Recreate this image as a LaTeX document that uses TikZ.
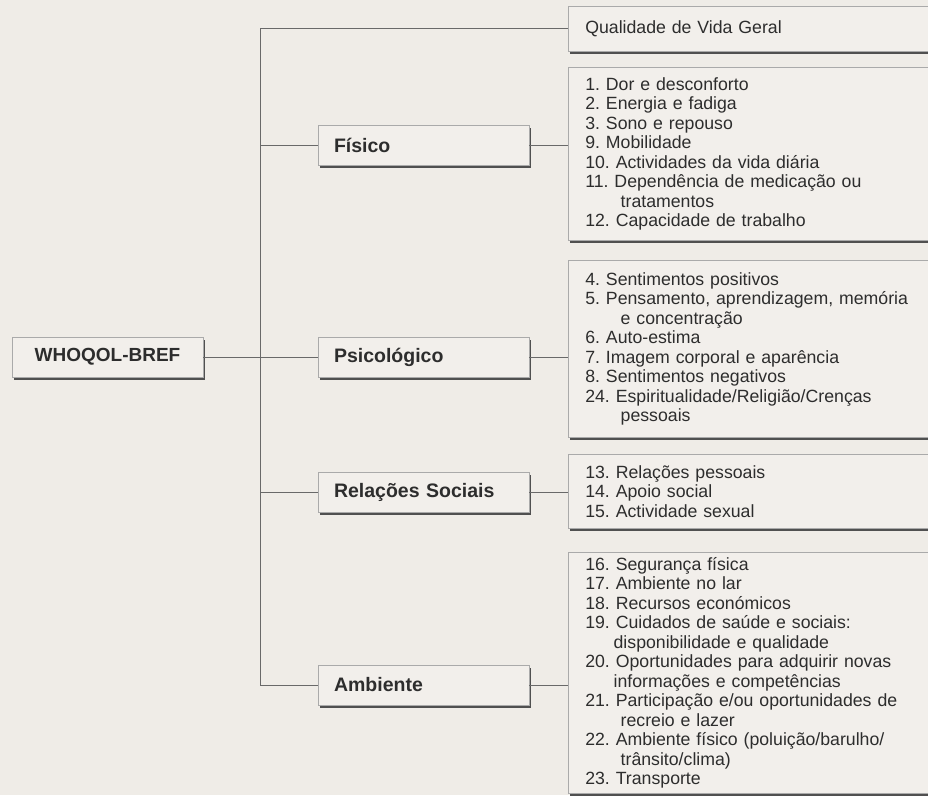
\documentclass[tikz,border=0pt]{standalone}
\usepackage{fontspec}
\setmainfont{Liberation Sans}
\usetikzlibrary{positioning, shadows}
\frenchspacing

\definecolor{paper}{RGB}{239,236,231}
\definecolor{boxfill}{RGB}{242,239,235}
\definecolor{ink}{RGB}{45,45,45}
\definecolor{wire}{RGB}{105,105,105}
\definecolor{rim}{RGB}{170,170,170}
\definecolor{shade}{RGB}{80,80,80}

\begin{document}
\begin{tikzpicture}[
  x=1pt, y=-1pt,
  boxbase/.style={rectangle, draw=rim, line width=0.6pt, fill=boxfill, text=ink,
    drop shadow={shadow xshift=2pt, shadow yshift=-2.5pt, fill=shade, opacity=1}},
  rootbox/.style={boxbase, minimum width=191pt, minimum height=40pt,
    font=\fontsize{19}{22}\selectfont\bfseries},
  domainbox/.style={boxbase, text width=179pt, inner xsep=16pt, minimum height=40pt,
    align=left, font=\fontsize{19.5}{22}\selectfont\bfseries},
  itembox/.style={boxbase, anchor=north west, text width=346pt, inner xsep=17pt,
    align=left, font=\fontsize{17.7}{19.5}\selectfont},
  conn/.style={draw=wire, line width=1pt},
]
\useasboundingbox (0,0) rectangle (928,795);
\clip (0,0) rectangle (928,795);
\fill[paper] (0,0) rectangle (928,795);

% root
\node[rootbox] (whoqol) at (107.5,357) {WHOQOL-BREF};

% domains
\node[domainbox] (fisico) at (423.5,145) {Físico};
\node[domainbox] (psico) at (423.5,357) {Psicológico};
\node[domainbox] (social) at (423.5,492) {Relações Sociais};
\node[domainbox] (ambiente) at (423.5,685) {Ambiente};

% facet lists
\node[itembox, minimum height=45pt] (geral) at (568,6) {Qualidade de Vida Geral};
\node[itembox, minimum height=173pt] (fisitems) at (568,67) {1. Dor e desconforto\\
  2. Energia e fadiga\\
  3. Sono e repouso\\
  9. Mobilidade\\
  10. Actividades da vida diária\\
  11. Dependência de medicação ou\\
  \hspace*{2em}tratamentos\\
  12. Capacidade de trabalho};
\node[itembox, minimum height=177pt] (psiitems) at (568,260) {4. Sentimentos positivos\\
  5. Pensamento, aprendizagem, memória\\
  \hspace*{2em}e concentração\\
  6. Auto-estima\\
  7. Imagem corporal e aparência\\
  8. Sentimentos negativos\\
  24. Espiritualidade/Religião/Crenças\\
  \hspace*{2em}pessoais};
\node[itembox, minimum height=74pt] (socitems) at (568,454) {13. Relações pessoais\\
  14. Apoio social\\
  15. Actividade sexual};
\node[itembox, minimum height=241pt] (ambitems) at (568,552) {16. Segurança física\\
  17. Ambiente no lar\\
  18. Recursos económicos\\
  19. Cuidados de saúde e sociais:\\
  \hspace*{1.6em}disponibilidade e qualidade\\
  20. Oportunidades para adquirir novas\\
  \hspace*{1.6em}informações e competências\\
  21. Participação e/ou oportunidades de\\
  \hspace*{2em}recreio e lazer\\
  22. Ambiente físico (poluição/barulho/\\
  \hspace*{2em}trânsito/clima)\\
  23. Transporte};

% trunk
\coordinate (trunkbot) at (260,685);
\draw[conn] (geral.west) -| (trunkbot) -- (ambiente.west);
\draw[conn] (whoqol.east) -- (psico.west);
\draw[conn] (fisico.west) -- (fisico.west -| trunkbot);
\draw[conn] (social.west) -- (social.west -| trunkbot);

% domain to facets
\draw[conn] (fisico.east) -- (fisico.east -| fisitems.west);
\draw[conn] (psico.east) -- (psico.east -| psiitems.west);
\draw[conn] (social.east) -- (social.east -| socitems.west);
\draw[conn] (ambiente.east) -- (ambiente.east -| ambitems.west);

\end{tikzpicture}
\end{document}
